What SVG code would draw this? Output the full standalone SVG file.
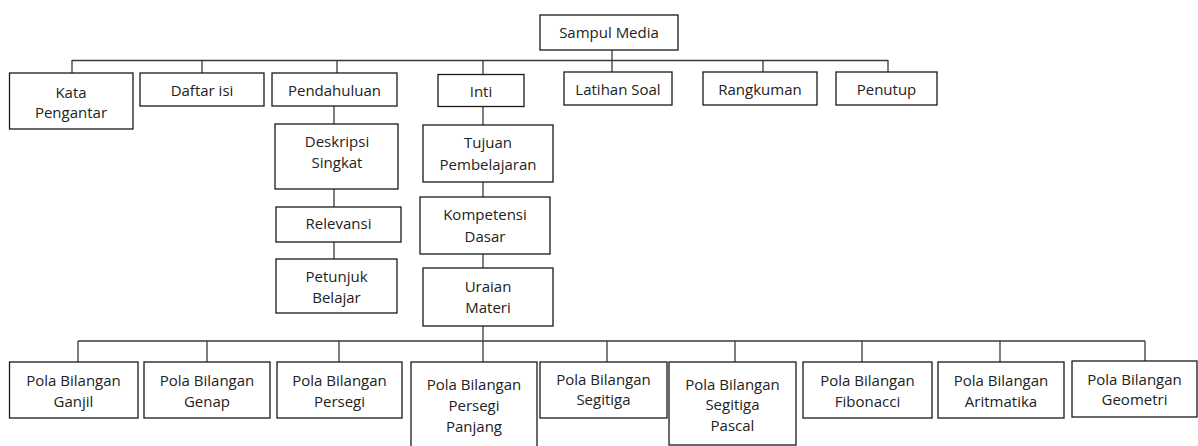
<svg xmlns="http://www.w3.org/2000/svg" width="1198" height="446" viewBox="0 0 1198 446">
<style>
.box{fill:#fff;stroke:#1a1a1a;stroke-width:1.3}
.t{font-family:"Open Sans","Noto Sans",sans-serif;font-size:15px;fill:#222;text-anchor:middle}
.c{stroke:#3a3a3a;stroke-width:1.3;fill:none}
</style>
<rect width="1198" height="446" fill="#fff"/>
<g id="connectors">
<line class="c" x1="72" y1="60.5" x2="888" y2="60.5"/>
<line class="c" x1="612" y1="50" x2="612" y2="72"/>
<line class="c" x1="72" y1="60" x2="72" y2="73"/>
<line class="c" x1="202" y1="60" x2="202" y2="73"/>
<line class="c" x1="337" y1="60" x2="337" y2="73"/>
<line class="c" x1="483" y1="60" x2="483" y2="74"/>
<line class="c" x1="763" y1="60" x2="763" y2="72"/>
<line class="c" x1="888" y1="60" x2="888" y2="72"/>
<line class="c" x1="334" y1="106" x2="334" y2="124"/>
<line class="c" x1="334" y1="189" x2="334" y2="207"/>
<line class="c" x1="334" y1="242" x2="334" y2="259"/>
<line class="c" x1="483" y1="107" x2="483" y2="125"/>
<line class="c" x1="483" y1="182" x2="483" y2="197"/>
<line class="c" x1="483" y1="254" x2="483" y2="268"/>
<line class="c" x1="483" y1="326" x2="483" y2="362"/>
<line class="c" x1="78" y1="341" x2="1145" y2="341"/>
<line class="c" x1="78" y1="341" x2="78" y2="362"/>
<line class="c" x1="207" y1="341" x2="207" y2="362"/>
<line class="c" x1="339" y1="341" x2="339" y2="362"/>
<line class="c" x1="607" y1="341" x2="607" y2="362"/>
<line class="c" x1="735" y1="341" x2="735" y2="362"/>
<line class="c" x1="862" y1="341" x2="862" y2="362"/>
<line class="c" x1="1000" y1="341" x2="1000" y2="362"/>
<line class="c" x1="1145" y1="341" x2="1145" y2="361"/>
</g>
<g id="sampul"><rect class="box" x="540" y="15" width="138" height="35"/><text class="t" x="609" y="38">Sampul Media</text></g>
<g id="kata"><rect class="box" x="9.5" y="73" width="123.5" height="56"/><text class="t" x="71" y="98">Kata</text><text class="t" x="71" y="118">Pengantar</text></g>
<g id="daftar"><rect class="box" x="140" y="73" width="124" height="33"/><text class="t" x="202" y="96">Daftar isi</text></g>
<g id="pendahuluan"><rect class="box" x="272" y="73" width="125" height="33"/><text class="t" x="334.5" y="96">Pendahuluan</text></g>
<g id="inti"><rect class="box" x="438" y="74.5" width="86" height="32"/><text class="t" x="481" y="97">Inti</text></g>
<g id="latihan"><rect class="box" x="564" y="72" width="108" height="33"/><text class="t" x="618" y="95">Latihan Soal</text></g>
<g id="rangkuman"><rect class="box" x="703" y="72" width="114" height="33"/><text class="t" x="760" y="95">Rangkuman</text></g>
<g id="penutup"><rect class="box" x="836" y="72" width="101" height="33"/><text class="t" x="886.5" y="95">Penutup</text></g>
<g id="deskripsi"><rect class="box" x="275" y="124" width="123" height="65"/><text class="t" x="337" y="147">Deskripsi</text><text class="t" x="337" y="168">Singkat</text></g>
<g id="relevansi"><rect class="box" x="276" y="207" width="125" height="35"/><text class="t" x="338.5" y="229">Relevansi</text></g>
<g id="petunjuk"><rect class="box" x="276" y="259" width="121" height="54"/><text class="t" x="336.5" y="282">Petunjuk</text><text class="t" x="336.5" y="303">Belajar</text></g>
<g id="tujuan"><rect class="box" x="423" y="125" width="130" height="57"/><text class="t" x="488" y="148">Tujuan</text><text class="t" x="488" y="170">Pembelajaran</text></g>
<g id="kompetensi"><rect class="box" x="420" y="197" width="130" height="57"/><text class="t" x="485" y="220">Kompetensi</text><text class="t" x="485" y="242">Dasar</text></g>
<g id="uraian"><rect class="box" x="423" y="268" width="130" height="58"/><text class="t" x="488" y="292">Uraian</text><text class="t" x="488" y="313">Materi</text></g>
<g id="ganjil"><rect class="box" x="9.5" y="362" width="128.5" height="56"/><text class="t" x="73.5" y="386">Pola Bilangan</text><text class="t" x="73.5" y="407">Ganjil</text></g>
<g id="genap"><rect class="box" x="144" y="362" width="126" height="56"/><text class="t" x="207" y="386">Pola Bilangan</text><text class="t" x="207" y="407">Genap</text></g>
<g id="persegi"><rect class="box" x="277" y="362" width="125" height="56"/><text class="t" x="339.5" y="386">Pola Bilangan</text><text class="t" x="339.5" y="407">Persegi</text></g>
<g id="persegipanjang"><rect class="box" x="411" y="362" width="126" height="92"/><text class="t" x="474" y="390">Pola Bilangan</text><text class="t" x="474" y="411">Persegi</text><text class="t" x="474" y="432">Panjang</text></g>
<g id="segitiga"><rect class="box" x="540" y="362" width="127" height="56"/><text class="t" x="603.5" y="385">Pola Bilangan</text><text class="t" x="603.5" y="405">Segitiga</text></g>
<g id="pascal"><rect class="box" x="669" y="362" width="127" height="83"/><text class="t" x="732.5" y="390">Pola Bilangan</text><text class="t" x="732.5" y="410">Segitiga</text><text class="t" x="732.5" y="431">Pascal</text></g>
<g id="fibonacci"><rect class="box" x="803" y="362" width="129" height="56"/><text class="t" x="867.5" y="386">Pola Bilangan</text><text class="t" x="867.5" y="407">Fibonacci</text></g>
<g id="aritmatika"><rect class="box" x="938" y="362" width="126" height="56"/><text class="t" x="1001" y="386">Pola Bilangan</text><text class="t" x="1001" y="407">Aritmatika</text></g>
<g id="geometri"><rect class="box" x="1072" y="361" width="125" height="56"/><text class="t" x="1134.5" y="385">Pola Bilangan</text><text class="t" x="1134.5" y="405">Geometri</text></g>
</svg>
